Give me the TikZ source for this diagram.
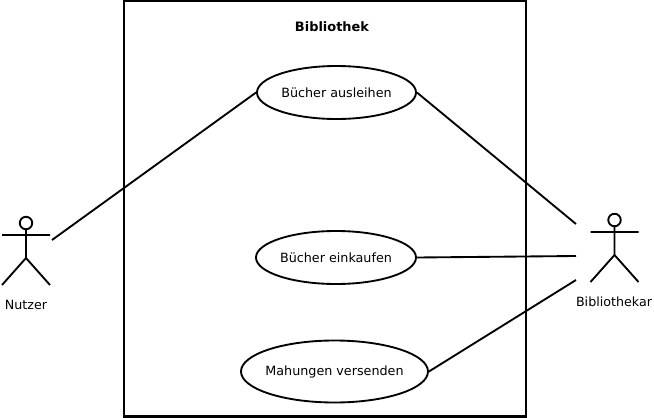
\documentclass[tikz,border=0pt]{standalone}
\usepackage{fontspec}
\setmainfont{DejaVu Sans}
\usetikzlibrary{shapes.geometric}
\begin{document}
\begin{tikzpicture}[x=0.75pt,y=-0.75pt,line width=0.75pt,
  uc/.style={draw,ellipse,minimum width=#1*0.75pt,inner sep=0pt,line width=1.4pt,font=\fontsize{9.55}{11}\selectfont},
  lbl/.style={inner sep=0pt,font=\fontsize{9.5}{11}\selectfont},
  link/.style={line width=1.4pt},
  actorline/.style={line width=1.4pt},
  headc/.style={draw,circle,minimum size=12.5*0.75pt,inner sep=0pt,line width=1.4pt}]
\useasboundingbox (0,0) rectangle (654,418);
\fill[white] (0,0) rectangle (654,418);
\node[draw,line width=1.9pt,minimum width=402*0.75pt,minimum height=415.5*0.75pt,inner sep=0pt] (sys) at (325,208.5) {};
\node[lbl,font=\fontsize{9.7}{11}\selectfont\bfseries] (title) at (332,27) {Bibliothek};
\node[uc=159,minimum height=53*0.75pt] (u1) at (336.5,92.5) {\makebox[0pt]{Bücher ausleihen}};
\node[uc=160,minimum height=53*0.75pt] (u2) at (336,257.5) {\makebox[0pt]{Bücher einkaufen}};
\node[uc=187,minimum height=62*0.75pt] (u3) at (334.5,371.5) {\makebox[0pt]{Mahungen versenden}};
\node[headc] (h1) at (26,223) {};
\coordinate (h) at (26,258);
\draw[actorline] (h1) -- (h) (2,235) -- (50,235) (2,285) -- (h) -- (50,285);
\node[headc] (h2) at (614.5,220) {};
\coordinate (h3) at (614.5,255);
\draw[actorline] (h2) -- (h3) (590.5,232) -- (638.5,232) (590.5,282) -- (h3) -- (638.5,282);
\node[lbl] (a1) at (26,305) {Nutzer};
\node[lbl] (a2) at (614,302) {Bibliothekar};
\coordinate (p1) at (52,240);
\coordinate (p2) at (576,224);
\coordinate (p3) at (576,256);
\coordinate (p4) at (576,280);
\draw[link] (p1) -- (u1.west);
\draw[link] (u1.east) -- (p2);
\draw[link] (u2.east) -- (p3);
\draw[link] (u3.east) -- (p4);
\end{tikzpicture}
\end{document}
